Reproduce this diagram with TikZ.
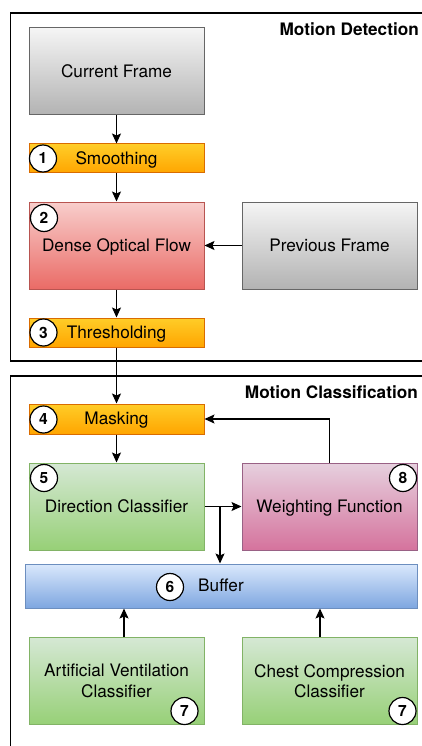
\documentclass[tikz,border=0pt]{standalone}
\usepackage{fontspec}
\setmainfont{TeX Gyre Heros}
\usetikzlibrary{arrows.meta}
\newcommand{\lbfont}{\fontsize{17.2}{20.5}\selectfont}
\newcommand{\numfont}{\fontsize{15.5}{16}\selectfont\bfseries}
\tikzset{
  box/.style={rectangle, line width=1pt, minimum width=175, minimum height=87, inner sep=0, align=center, font=\lbfont},
  one/.style={text height=11.5pt, text depth=0pt},
  graybox/.style={box, draw=black!60, top color=black!4, bottom color=black!30},
  orangebox/.style={box, draw=orange!85!black, top color={rgb,255:red,255;green,205;blue,40}, bottom color={rgb,255:red,255;green,165;blue,0}, minimum height=29},
  redbox/.style={box, draw={rgb,255:red,184;green,84;blue,80}, top color={rgb,255:red,248;green,206;blue,204}, bottom color={rgb,255:red,234;green,107;blue,102}},
  greenbox/.style={box, draw={rgb,255:red,130;green,179;blue,102}, top color={rgb,255:red,213;green,232;blue,212}, bottom color={rgb,255:red,151;green,208;blue,119}},
  pinkbox/.style={box, draw={rgb,255:red,153;green,97;blue,133}, top color={rgb,255:red,230;green,208;blue,222}, bottom color={rgb,255:red,213;green,115;blue,157}},
  bluebox/.style={box, draw={rgb,255:red,108;green,142;blue,191}, top color={rgb,255:red,218;green,232;blue,252}, bottom color={rgb,255:red,126;green,166;blue,224}},
  num/.style={circle, draw=black, fill=white, line width=1.2pt, minimum size=27, inner sep=0, font=\numfont},
  conn/.style={line width=1.2pt, -{Stealth[length=10pt,width=9pt,inset=2pt]}},
  panel/.style={line width=1.3pt},
  title/.style={anchor=east, font=\lbfont\bfseries, inner sep=0}
}
\begin{document}
\begin{tikzpicture}[x=1pt,y=-1pt]
\useasboundingbox (0,0) rectangle (422,746);
\fill[white] (0,0) rectangle (422,746);
% panels
\draw[panel] (422,13) -- (10.5,13) -- (10.5,361) -- (422,361);
\draw[panel] (422,376) -- (10.5,376) -- (10.5,746);
\node[title] (tdet) at (419,29) {Motion Detection};
\node[title] (tcls) at (418,392) {Motion Classification};
% boxes
\node[graybox, one] (cur) at (116.5,71.5) {Current Frame};
\node[orangebox, one] (smooth) at (116.5,158.5) {Smoothing};
\node[redbox, one] (dense) at (116.5,245.5) {Dense Optical Flow};
\node[graybox, one] (prev) at (329.5,245.5) {Previous Frame};
\node[orangebox, one] (thresh) at (116.5,332.5) {Thresholding};
\node[orangebox, one, minimum height=30] (mask) at (116.5,419) {Masking};
\node[greenbox, one] (dir) at (116.5,506.5) {Direction Classifier};
\node[pinkbox, one] (weight) at (329.5,506.5) {Weighting Function};
\node[bluebox, one, minimum width=392, minimum height=44] (buf) at (221,586) {Buffer};
\node[greenbox] (av) at (116.5,681) {Artificial Ventilation\\Classifier};
\node[greenbox] (cc) at (329.5,681) {Chest Compression\\Classifier};
% numbers
\node[num] (n1) at (43,158.5) {1};
\node[num] (n2) at (44,218) {2};
\node[num] (n3) at (43.5,332.5) {3};
\node[num] (n4) at (43.5,419.5) {4};
\node[num] (n5) at (44,478) {5};
\node[num] (n8) at (403,478) {8};
\node[num] (n6) at (170,587) {6};
\node[num] (n7a) at (184.5,711) {7};
\node[num] (n7b) at (402.5,711) {7};
% connectors
\draw[conn] (cur) -- (smooth);
\draw[conn] (smooth) -- (dense);
\draw[conn] (prev) -- (dense);
\draw[conn] (dense) -- (thresh);
\draw[conn] (thresh) -- (mask);
\draw[conn] (mask) -- (dir);
\draw[conn] (dir) -- (weight);
\coordinate (br) at (220,506.5);
\draw[conn] (br) -- (br |- buf.north);
\draw[conn] (weight.north) |- (mask.east);
\draw[conn] (av.north -| 124,0) -- (buf.south -| 124,0);
\draw[conn] (cc.north -| 320,0) -- (buf.south -| 320,0);
\end{tikzpicture}
\end{document}
